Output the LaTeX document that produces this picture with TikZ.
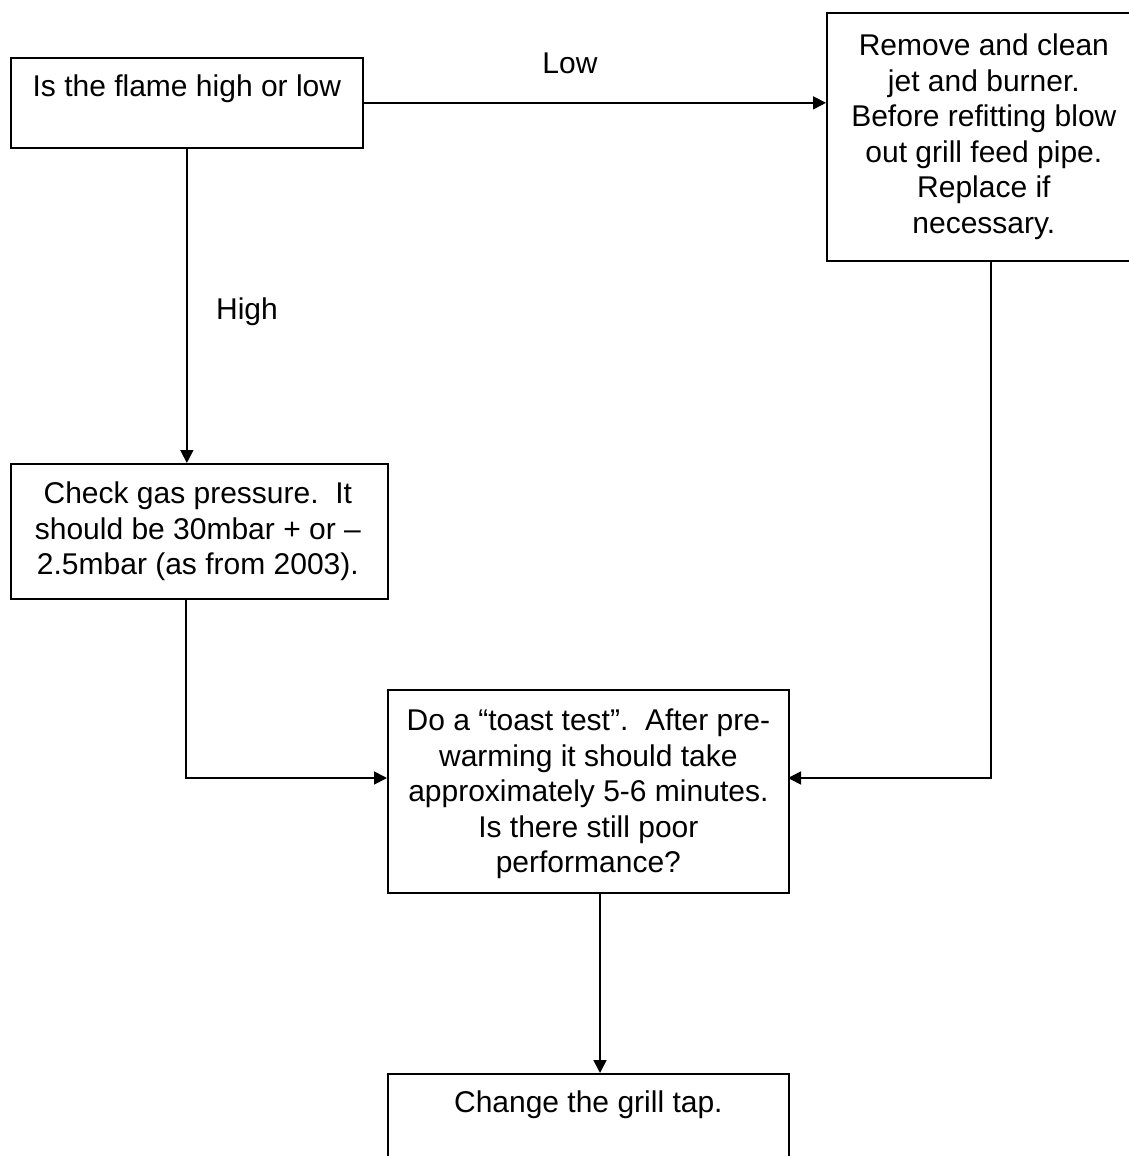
\documentclass[tikz,border=0pt]{standalone}
\usepackage{fontspec}
\setmainfont{Liberation Sans}
\usetikzlibrary{arrows.meta}
\begin{document}
\begin{tikzpicture}[x=1pt,y=-1pt,
  box/.style={draw, line width=1.7pt, rectangle, inner sep=0pt, anchor=north west},
  txt/.style={inner sep=0pt, align=center, font=\fontsize{30}{35.5}\selectfont},
  conn/.style={line width=1.7pt, -{Triangle[length=13pt,width=13pt]}}
]
\clip (0,0) rectangle (1129,1156);
\useasboundingbox (0,0) rectangle (1129,1156);

% boxes
\node[box, minimum width=352pt, minimum height=90pt] (b1) at (10,57) {};
\node[box, minimum width=328pt, minimum height=248pt] (b2) at (826,12) {};
\node[box, minimum width=377pt, minimum height=135pt] (b3) at (10,463) {};
\node[box, minimum width=401pt, minimum height=203pt] (b4) at (387,689) {};
\node[box, minimum width=401pt, minimum height=120pt] (b5) at (387,1073) {};

% texts
\node[txt, anchor=north] (t1) at ([yshift=-18pt]b1.north) {Is the flame high or low};
\node[txt, anchor=north] (t2) at ([xshift=-7pt,yshift=-22pt]b2.north) {Remove and clean\\jet and burner.\\Before refitting blow\\out grill feed pipe.\\Replace if\\necessary.};
\node[txt, anchor=north] (t3) at ([xshift=-1.5pt,yshift=-19pt]b3.north) {Check gas pressure.\ \ It\\should be 30mbar + or –\\2.5mbar (as from 2003).};
\node[txt, anchor=north] (t4) at ([yshift=-20pt]b4.north) {Do a “toast test”.\ \ After pre-\\warming it should take\\approximately 5-6 minutes.\\Is there still poor\\performance?};
\node[txt, anchor=north] (t5) at ([yshift=-18pt]b5.north) {Change the grill tap.};

% labels
\node[txt] (low) at (570,63) {Low};
\node[txt] (high) at (247,312) {High};

% connector coordinates
\coordinate (inL) at (387,778);
\coordinate (inR) at (788,778);
\coordinate (b3out) at (186,598);
\coordinate (b4out) at (600,892);

% connectors
\draw[conn] (b1.east) -- (b1.east -| b2.west);
\draw[conn] (b1.south) -- (b1.south |- b3.north);
\draw[conn] (b3out) |- (inL);
\draw[conn] (b2.south) |- (inR);
\draw[conn] (b4out) -- (b4out |- b5.north);
\end{tikzpicture}
\end{document}
